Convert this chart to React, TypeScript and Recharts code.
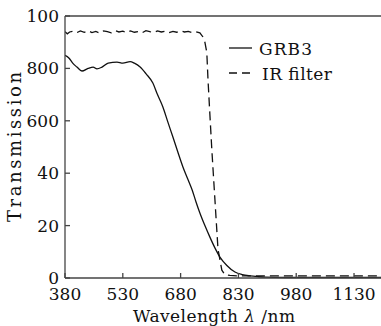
import React from "react";
import { LineChart, Line, XAxis, YAxis, ReferenceLine, Legend } from "recharts";

const xTicks = [380, 530, 680, 830, 980, 1130];
const yTicks = [0, 20, 40, 60, 80, 100];
const yTickLabels = ["0", "20", "40", "600", "800", "100"];

// GRB3 (solid)
const grbWl = [380, 390, 400, 411, 424, 440, 453, 463, 476, 492, 515, 530, 549, 560, 575, 590, 608, 620, 634, 647, 660, 673, 686, 698, 710, 720, 730, 743, 756, 769, 782, 800, 821, 840, 860, 880, 900, 950, 1000, 1100, 1200];
const grbT = [85, 84, 82, 80.5, 79, 80, 80.5, 79.8, 80.5, 82, 82.4, 82, 82.6, 82, 80.5, 78, 74.4, 70, 65.3, 59.5, 53.8, 48, 42.4, 38, 33.6, 29, 24.8, 20, 15.6, 11.5, 8, 4.8, 2.3, 1.3, 0.8, 0.5, 0.3, 0.2, 0.2, 0.2, 0.2];

// IR filter (dashed)
const irWl = [380, 386, 392, 400, 410, 420, 430, 440, 450, 460, 470, 480, 490, 500, 510, 520, 530, 540, 550, 560, 570, 580, 590, 600, 610, 620, 630, 640, 650, 660, 670, 680, 690, 700, 710, 720, 730, 738, 743, 748, 751, 755, 761, 769, 777, 787, 795, 808, 830, 900, 1000, 1100, 1200];
const irT = [94, 93.2, 93.9, 94.2, 93.6, 94.3, 93.8, 94.4, 93.7, 94.1, 93.5, 94.3, 94, 93.6, 94.4, 93.9, 94.2, 93.7, 94.3, 93.8, 94.1, 93.6, 94.4, 94, 93.7, 94.3, 93.9, 94.2, 93.6, 94.1, 93.8, 94.3, 93.9, 94.1, 93.7, 94, 93.6, 92, 90, 86, 76, 65, 49, 30, 11, 3, 1.2, 1, 0.8, 0.8, 0.8, 0.8, 0.8];

const grbData = grbWl.map((wl, i) => ({ wl, t: grbT[i] }));
const irData = irWl.map((wl, i) => ({ wl, t: irT[i] }));

const FONT = "DejaVu Serif";
const AXIS = "#444";

function LegendBox() {
  return (
    <svg width={150} height={50} style={{ overflow: "visible", fontFamily: FONT }}>
      <line x1={4} y1={13} x2={27} y2={13} stroke="#111" strokeWidth={1.3} />
      <text x={34} y={20} fontSize={17} fill="#111" textLength={53}>GRB3</text>
      <line x1={4} y1={38} x2={27} y2={38} stroke="#111" strokeWidth={1.3} strokeDasharray="8 5" />
      <text x={37} y={45} fontSize={17} fill="#111" textLength={70}>IR filter</text>
    </svg>
  );
}

export default function App() {
  return (
    <div style={{ position: "absolute", left: 0, top: 0, fontFamily: FONT }}>
      <LineChart width={381} height={326} margin={{ top: 16, right: 0, bottom: 0, left: 0 }} style={{ fontFamily: FONT }}>
        <XAxis
          dataKey="wl"
          type="number"
          domain={[380, 1200]}
          ticks={xTicks}
          allowDataOverflow
          height={48}
          stroke={AXIS}
          strokeWidth={1.3}
          tickSize={-5}
          tickMargin={15}
          tick={{ fontFamily: FONT, fontSize: 17, fill: "#111" }}
          label={{
            content: () => (
              <text x={214} y={322} textAnchor="middle" fontFamily={FONT} fontSize={17} fill="#111" textLength={162} lengthAdjust="spacing">
                Wavelength <tspan fontStyle="italic">λ</tspan> /nm
              </text>
            ),
          }}
        />
        <YAxis
          type="number"
          domain={[0, 100]}
          ticks={yTicks}
          width={65}
          stroke={AXIS}
          strokeWidth={1.3}
          tickSize={-5}
          tickMargin={11}
          tickFormatter={(v: number) => yTickLabels[yTicks.indexOf(v)]}
          tick={{ fontFamily: FONT, fontSize: 17, fill: "#111" }}
          label={{
            content: () => (
              <text x={14} y={147} transform="rotate(-90 14 147)" textAnchor="middle" dominantBaseline="central" fontFamily={FONT} fontSize={18} fill="#111" textLength={150} lengthAdjust="spacing">
                Transmission
              </text>
            ),
          }}
        />
        <ReferenceLine y={100} stroke={AXIS} strokeWidth={1.3} />
        <Legend
          content={() => <LegendBox />}
          wrapperStyle={{ position: "absolute", left: 225, top: 35, width: 0, height: 0, overflow: "visible" }}
        />
        <Line data={irData} dataKey="t" type="linear" stroke="#111" strokeWidth={1.3} strokeDasharray="9 5" dot={false} isAnimationActive={false} />
        <Line data={grbData} dataKey="t" type="monotone" stroke="#111" strokeWidth={1.3} dot={false} isAnimationActive={false} />
      </LineChart>
    </div>
  );
}
